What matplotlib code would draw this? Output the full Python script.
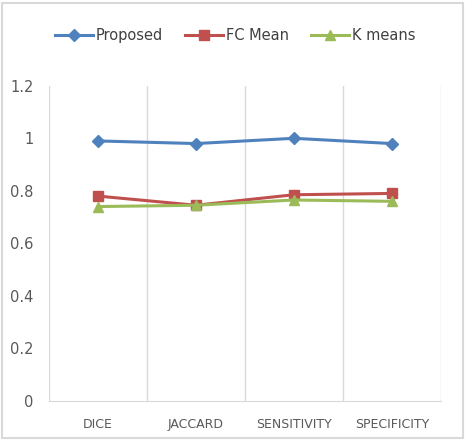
#Recreate the segmentation metric comparison chart

#Libraries
import matplotlib
matplotlib.use('Agg')
import matplotlib.pyplot as plt
from matplotlib.patches import Rectangle

#Data
metrics=['DICE','JACCARD','SENSITIVITY','SPECIFICITY']
proposed=[0.99,0.98,1.0,0.98]
fc_mean=[0.78,0.745,0.785,0.79]
k_means=[0.74,0.745,0.765,0.76]

#Figure
fig=plt.figure(figsize=(4.65,4.4),dpi=100)
ax=fig.add_axes([0.105,0.089,0.843,0.716])

x=range(len(metrics))
ax.plot(x,proposed,color='#4F81BD',lw=2.2,marker='D',ms=6,label='Proposed')
ax.plot(x,fc_mean,color='#C0504D',lw=2.2,marker='s',ms=7,label='FC Mean')
ax.plot(x,k_means,color='#9BBB59',lw=2.2,marker='^',ms=7,label='K means')

#Axes styling
ax.set_xlim(-0.5,len(metrics)-0.5)
ax.set_ylim(0,1.2)
ax.set_yticks([0,0.2,0.4,0.6,0.8,1,1.2])
ax.set_yticklabels(['0','0.2','0.4','0.6','0.8','1','1.2'])
ax.set_xticks(list(x))
ax.set_xticklabels(metrics,fontsize=9,color='#595959')
for i in range(len(metrics)+1):
	ax.axvline(i-0.5,color='#D9D9D9',lw=1,zorder=0)
for s in ['top','right','left']:
	ax.spines[s].set_visible(False)
ax.spines['bottom'].set_color('#D9D9D9')
ax.tick_params(axis='both',length=0,colors='#595959')
ax.tick_params(axis='y',labelsize=10.5,pad=11)
ax.tick_params(axis='x',pad=12)

#Legend
ax.legend(loc='center',bbox_to_anchor=(0.475,1.16),ncol=3,frameon=False,fontsize=10.5,
	handlelength=2.6,columnspacing=1.5,handletextpad=0.2,labelcolor='#404040')

#Outer border
fig.patches.append(Rectangle((0.004,0.004),0.992,0.99,transform=fig.transFigure,
	fill=False,edgecolor='#D9D9D9',lw=1.5))

plt.savefig('out.png',dpi=100)
